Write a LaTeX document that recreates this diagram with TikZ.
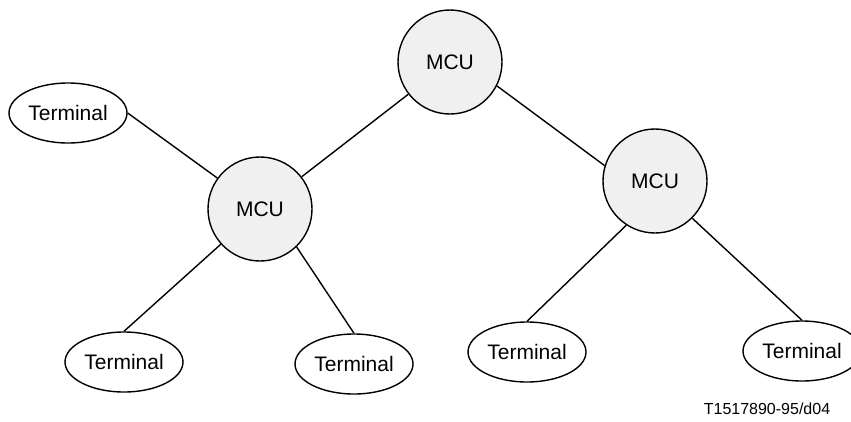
\documentclass[tikz,border=0pt]{standalone}
\usepackage{fontspec}
\setmainfont{Liberation Sans}
\usetikzlibrary{shapes.geometric}
\definecolor{mcugray}{RGB}{240,240,240}
\tikzset{
  mcu/.style={circle,draw,line width=1.4pt,fill=mcugray,minimum size=104pt,inner sep=0pt,font=\fontsize{21}{24}\selectfont},
  terminal/.style={ellipse,draw,line width=1.4pt,fill=white,minimum width=118pt,minimum height=60pt,inner sep=0pt,font=\fontsize{21}{24}\selectfont},
  link/.style={line width=1.4pt}
}
\begin{document}
\begin{tikzpicture}[x=1pt,y=-1pt]
\useasboundingbox (0,0) rectangle (851,421);
  \node[mcu] (mtop) at (450,62) {MCU};
  \node[mcu] (mleft) at (260,209) {MCU};
  \node[mcu] (mright) at (655,181) {MCU};

  \node[terminal] (tul) at (68,113) {Terminal};
  \node[terminal] (tbl) at (124,362) {Terminal};
  \node[terminal] (tbm) at (354,364) {Terminal};
  \node[terminal] (tbr) at (527,352) {Terminal};
  \node[terminal] (tfr) at (802,351) {Terminal};

  \draw[link] (tul.east)--(mleft);
  \draw[link] (mtop)--(mleft);
  \draw[link] (mtop.-27)--(mright.163);
  \draw[link] (mleft)--(tbl.north);
  \draw[link] (mleft.-46)--(tbm.north);
  \draw[link] (mright.237)--(tbr.north);
  \draw[link] (mright.-45)--(tfr.north);

  \node[font=\fontsize{16}{19}\selectfont] (fig) at (767,409) {T1517890-95/d04};
 \end{tikzpicture}
\end{document}
